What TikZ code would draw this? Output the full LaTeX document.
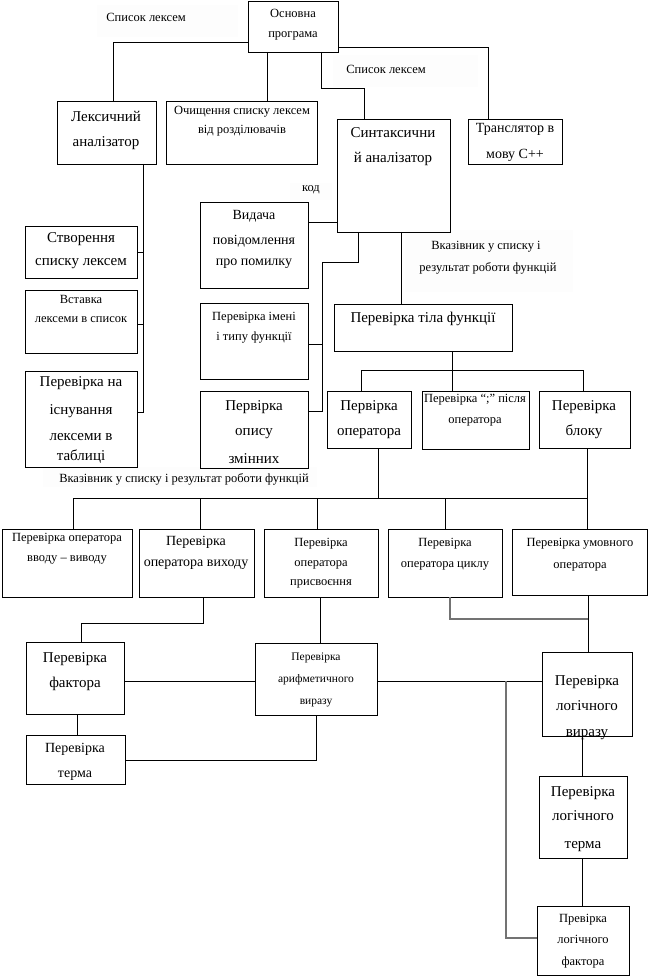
\documentclass[tikz,border=0pt]{standalone}
\usepackage{fontspec}
\setmainfont{Liberation Serif}
\newcommand\fbig{\fontsize{15}{18}\selectfont}
\newcommand\fmb{\fontsize{14}{17}\selectfont}
\newcommand\fmid{\fontsize{12.5}{15}\selectfont}
\newcommand\fsm{\fontsize{11.5}{14}\selectfont}
\begin{document}
\begin{tikzpicture}[x=1pt,y=-1pt,
 box/.style={draw, line width=0.9pt, anchor=north west, inner sep=0pt, outer sep=0pt},
 lbl/.style={anchor=base, inner sep=0pt, outer sep=0pt},
 conn/.style={draw, line width=0.8pt},
 gconn/.style={draw=black!55, line width=1.1pt},
 bg/.style={fill=black!0.8}]
\useasboundingbox (0,0) rectangle (648,976);
% faint label backgrounds
\fill[bg] (97,5) rectangle (238,37);
\fill[bg] (333,55) rectangle (478,87);
\fill[bg] (290,183) rectangle (332,200);
\fill[bg] (405,230) rectangle (573,292);
\fill[bg] (43,467) rectangle (317,487);
% boxes
\node[box, minimum width=90pt, minimum height=51pt] (main) at (248,1) {};
\node[box, minimum width=99pt, minimum height=63pt] (lex) at (57,101) {};
\node[box, minimum width=151pt, minimum height=63pt] (clean) at (166,101) {};
\node[box, minimum width=113pt, minimum height=113pt] (synt) at (337,119) {};
\node[box, minimum width=94pt, minimum height=45pt] (trans) at (468,119) {};
\node[box, minimum width=112pt, minimum height=52pt] (create) at (25,226) {};
\node[box, minimum width=112pt, minimum height=63pt] (insert) at (25,290) {};
\node[box, minimum width=112pt, minimum height=96pt] (exist) at (25,371) {};
\node[box, minimum width=108pt, minimum height=86pt] (err) at (200,202) {};
\node[box, minimum width=108pt, minimum height=76pt] (fname) at (200,303) {};
\node[box, minimum width=108pt, minimum height=77pt] (vars) at (200,391) {};
\node[box, minimum width=178pt, minimum height=47pt] (body) at (334,304) {};
\node[box, minimum width=84pt, minimum height=57pt] (op) at (327,391) {};
\node[box, minimum width=107pt, minimum height=58pt] (semi) at (422,391) {};
\node[box, minimum width=91pt, minimum height=57pt] (block) at (539,391) {};
\node[box, minimum width=130pt, minimum height=68pt] (io) at (2,529) {};
\node[box, minimum width=115pt, minimum height=68pt] (exitb) at (139,529) {};
\node[box, minimum width=114pt, minimum height=68pt] (assign) at (264,529) {};
\node[box, minimum width=114pt, minimum height=68pt] (loop) at (388,529) {};
\node[box, minimum width=135pt, minimum height=66pt] (cond) at (512,529) {};
\node[box, minimum width=98pt, minimum height=72pt] (factor) at (26,642) {};
\node[box, minimum width=122pt, minimum height=72pt] (arith) at (255,643) {};
\node[box, minimum width=90pt, minimum height=84pt] (lexpr) at (542,652) {};
\node[box, minimum width=99pt, minimum height=49pt] (term) at (26,735) {};
\node[box, minimum width=88pt, minimum height=82pt] (lterm) at (539,776) {};
\node[box, minimum width=92pt, minimum height=69pt] (lfac) at (537,906) {};
% connectors
\draw[conn] (main.west |- 0,42) -| (113,0 |- lex.north);
\draw[conn] (267,0 |- main.south) -- (267,0 |- clean.north);
\draw[conn] (321,0 |- main.south) |- (364,88) -- (364,0 |- synt.north);
\draw[conn] (main.east |- 0,47) -| (488,0 |- trans.north);
\draw[conn] (143,0 |- lex.south) |- (exist.east |- 0,412);
\draw[conn] (create.east |- 0,252) -- (143,252);
\draw[conn] (insert.east |- 0,324) -- (143,324);
\draw[conn] (err.east |- 0,222) -- (synt.west |- 0,222);
\draw[conn] (358,0 |- synt.south) |- (322,262) |- (vars.east |- 0,411);
\draw[conn] (fname.east |- 0,344) -- (322,344);
\draw[conn] (401,0 |- synt.south) -- (401,0 |- body.north);
\draw[conn] (452,0 |- body.south) -- (452,0 |- semi.north);
\draw[conn] (361,0 |- op.north) |- (583,370) -- (583,0 |- block.north);
\draw[conn] (378,0 |- op.south) -- (378,498);
\draw[conn] (587,0 |- block.south) -- (587,0 |- cond.north);
\draw[conn] (73,0 |- io.north) |- (587,498);
\draw[conn] (200,498) -- (200,0 |- exitb.north);
\draw[conn] (317,498) -- (317,0 |- assign.north);
\draw[conn] (445,498) -- (445,0 |- loop.north);
\draw[gconn] (450,0 |- loop.south) |- (588,619);
\draw[conn] (588,0 |- cond.south) -- (588,0 |- lexpr.north);
\draw[conn] (203,0 |- exitb.south) |- (81,623) -- (81,0 |- factor.north);
\draw[conn] (320,0 |- assign.south) -- (320,0 |- arith.north);
\draw[conn] (factor.east |- 0,681) -- (arith.west |- 0,681);
\draw[conn] (arith.east |- 0,681) -- (lexpr.west |- 0,681);
\coordinate (jn) at (506,681);
\draw[gconn] (jn) |- (lfac.west |- 0,938);
\draw[conn] (77,0 |- factor.south) -- (77,0 |- term.north);
\draw[conn] (term.east |- 0,760) -| (316,0 |- arith.south);
\draw[conn] (582,0 |- lexpr.south) -- (582,0 |- lterm.north);
\draw[conn] (582,0 |- lterm.south) -- (582,0 |- lfac.north);
% free labels
\node[lbl,font=\fmid] (l1) at (146,22) {Список лексем};
\node[lbl,font=\fmid] (l2) at (386,74) {Список лексем};
\node[lbl,font=\fmid] (l3) at (311,192) {код};
\node[lbl,font=\fmid] (l4a) at (486,250) {Вказівник у списку і};
\node[lbl,font=\fmid] (l4b) at (488,271) {результат роботи функцій};
\node[lbl,font=\fmid] (l5) at (184,482) {Вказівник у списку і результат роботи функцій};
% box texts
\node[lbl,font=\fmid] (t1a) at (293,18) {Основна};
\node[lbl,font=\fmid] (t1b) at (293,38) {програма};
\node[lbl,font=\fbig] (t2a) at (106,122) {Лексичний};
\node[lbl,font=\fbig] (t2b) at (106,147) {аналізатор};
\node[lbl,font=\fmid] (t3a) at (242,115) {Очищення списку лексем};
\node[lbl,font=\fmid] (t3b) at (242,134) {від розділювачів};
\node[lbl,font=\fbig] (t4a) at (393,138) {Синтаксични};
\node[lbl,font=\fbig] (t4b) at (393,163) {й аналізатор};
\node[lbl,font=\fmb] (t5a) at (515,133) {Транслятор в};
\node[lbl,font=\fmb] (t5b) at (515,159) {мову С++};
\node[lbl,font=\fbig] (t6a) at (81,242) {Створення};
\node[lbl,font=\fbig] (t6b) at (81,265) {списку лексем};
\node[lbl,font=\fmid] (t7a) at (81,303) {Вставка};
\node[lbl,font=\fmid] (t7b) at (81,322) {лексеми в список};
\node[lbl,font=\fbig] (t8a) at (81,386) {Перевірка на};
\node[lbl,font=\fbig] (t8b) at (81,414) {існування};
\node[lbl,font=\fbig] (t8c) at (81,440) {лексеми в};
\node[lbl,font=\fbig] (t8d) at (81,460) {таблиці};
\node[lbl,font=\fmb] (t9a) at (254,219) {Видача};
\node[lbl,font=\fmb] (t9b) at (254,244) {повідомлення};
\node[lbl,font=\fmb] (t9c) at (254,265) {про помилку};
\node[lbl,font=\fmid] (t10a) at (254,320) {Перевірка імені};
\node[lbl,font=\fmid] (t10b) at (254,340) {і типу функції};
\node[lbl,font=\fbig] (t11a) at (254,410) {Первірка};
\node[lbl,font=\fbig] (t11b) at (254,435) {опису};
\node[lbl,font=\fbig] (t11c) at (254,463) {змінних};
\node[lbl,font=\fbig] (t12) at (423,322) {Перевірка тіла функції};
\node[lbl,font=\fbig] (t13a) at (369,410) {Первірка};
\node[lbl,font=\fbig] (t13b) at (369,435) {оператора};
\node[lbl,font=\fmid] (t14a) at (475,402) {Перевірка “;” після};
\node[lbl,font=\fmid] (t14b) at (475,423) {оператора};
\node[lbl,font=\fbig] (t15a) at (584,410) {Перевірка};
\node[lbl,font=\fbig] (t15b) at (584,435) {блоку};
\node[lbl,font=\fmid] (t16a) at (67,541) {Перевірка оператора};
\node[lbl,font=\fmid] (t16b) at (67,561) {вводу – виводу};
\node[lbl,font=\fmb] (t17a) at (196,545) {Перевірка};
\node[lbl,font=\fmb] (t17b) at (196,566) {оператора виходу};
\node[lbl,font=\fmid] (t18a) at (321,546) {Перевірка};
\node[lbl,font=\fmid] (t18b) at (321,566) {оператора};
\node[lbl,font=\fmid] (t18c) at (321,585) {присвоєння};
\node[lbl,font=\fmid] (t19a) at (445,546) {Перевірка};
\node[lbl,font=\fmid] (t19b) at (445,567) {оператора циклу};
\node[lbl,font=\fmid] (t20a) at (580,546) {Перевірка умовного};
\node[lbl,font=\fmid] (t20b) at (580,568) {оператора};
\node[lbl,font=\fbig] (t21a) at (75,662) {Перевірка};
\node[lbl,font=\fbig] (t21b) at (75,687) {фактора};
\node[lbl,font=\fsm] (t22a) at (316,660) {Перевірка};
\node[lbl,font=\fsm] (t22b) at (316,682) {арифметичного};
\node[lbl,font=\fsm] (t22c) at (316,704) {виразу};
\node[lbl,font=\fbig] (t23a) at (587,685) {Перевірка};
\node[lbl,font=\fbig] (t23b) at (587,710) {логічного};
\node[lbl,font=\fbig] (t23c) at (587,736) {виразу};
\node[lbl,font=\fmb] (t24a) at (75,752) {Перевірка};
\node[lbl,font=\fmb] (t24b) at (75,777) {терма};
\node[lbl,font=\fbig] (t25a) at (583,796) {Перевірка};
\node[lbl,font=\fbig] (t25b) at (583,820) {логічного};
\node[lbl,font=\fbig] (t25c) at (583,848) {терма};
\node[lbl,font=\fmid] (t26a) at (583,922) {Превірка};
\node[lbl,font=\fmid] (t26b) at (583,943) {логічного};
\node[lbl,font=\fmid] (t26c) at (583,965) {фактора};
\end{tikzpicture}
\end{document}
